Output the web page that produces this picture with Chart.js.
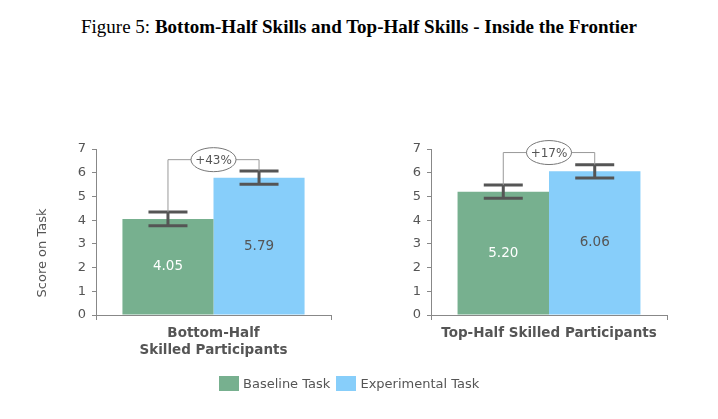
<!DOCTYPE html>
<html>
<head>
<meta charset="utf-8">
<script src="https://cdn.jsdelivr.net/npm/chart.js@4.4.1/dist/chart.umd.min.js"></script>
<style>
    body { margin: 0; background: #fff; width: 718px; height: 419px; position: relative; overflow: hidden; }
    #title { position: absolute; top: 16px; left: 0; width: 718px; text-align: center;
             font-family: "Liberation Serif", "DejaVu Serif", serif; font-size: 19px; color: #000; font-weight: bold; }
    #title span { font-weight: normal; }
    canvas { position: absolute; top: 0; }
    #left-wrap { position: absolute; left: 0; top: 0; width: 359px; height: 419px; }
    #right-wrap { position: absolute; left: 359px; top: 0; width: 359px; height: 419px; }
    #legend { position: absolute; top: 376px; left: 219px; font-family: "DejaVu Sans", sans-serif;
              font-size: 13px; color: #555; white-space: nowrap; }
    .sw { display: inline-block; width: 20px; height: 15px; vertical-align: -3px; margin-right: 4px; }
</style>
</head>
<body>
<div id="title"><span>Figure 5:</span> Bottom-Half Skills and Top-Half Skills - Inside the Frontier</div>
<div id="left-wrap"><canvas id="chart-left"></canvas></div>
<div id="right-wrap"><canvas id="chart-right"></canvas></div>
<div id="legend">
    <span class="sw" style="background:#77b08f"></span>Baseline Task
    <span class="sw" style="background:#87cefa; margin-left:2px"></span>Experimental Task
</div>
<script>
    // 데이터
    const groups = [['Bottom-Half', 'Skilled Participants'], ['Top-Half Skilled Participants']];
    const seriesNames = ['Baseline Task', 'Experimental Task'];
    const baseline = [4.05, 5.20];
    const experimental = [5.79, 6.06];
    const baselineErr = [0.29, 0.28];
    const experimentalErr = [0.28, 0.28];
    const gains = ['+43%', '+17%'];
    const bracketLevel = [6.55, 6.85];
    const yTicks = [0, 1, 2, 3, 4, 5, 6, 7];

    const colors = ['#77b08f', '#87cefa'];
    const labelColors = ['#ffffff', '#555555'];
    const font = 'DejaVu Sans';

    // 에러바, 값 라벨, 증가율 표시
    const overlayPlugin = {
        id: 'overlay',
        afterDatasetsDraw(chart, args, opts) {
            const ctx = chart.ctx;
            const y = chart.scales.y;
            const i = opts.index;
            const vals = [baseline[i], experimental[i]];
            const errs = [baselineErr[i], experimentalErr[i]];
            const xs = [];
            ctx.save();
            for (let d = 0; d < 2; d++) {
                const bar = chart.getDatasetMeta(d).data[0];
                xs.push(bar.x);
                // 값 라벨
                ctx.fillStyle = labelColors[d];
                ctx.font = '13.5px "' + font + '"';
                ctx.textAlign = 'center';
                ctx.textBaseline = 'middle';
                ctx.fillText(vals[d].toFixed(2), bar.x, (bar.y + bar.base) / 2);
                // 에러바
                const top = y.getPixelForValue(vals[d] + errs[d]);
                const bot = y.getPixelForValue(vals[d] - errs[d]);
                ctx.strokeStyle = '#555555';
                ctx.lineWidth = 3;
                ctx.beginPath();
                ctx.moveTo(bar.x, top); ctx.lineTo(bar.x, bot);
                ctx.moveTo(bar.x - 19.5, top); ctx.lineTo(bar.x + 19.5, top);
                ctx.moveTo(bar.x - 19.5, bot); ctx.lineTo(bar.x + 19.5, bot);
                ctx.stroke();
            }
            // 브래킷
            const by = y.getPixelForValue(bracketLevel[i]);
            const t0 = y.getPixelForValue(vals[0] + errs[0]);
            const t1 = y.getPixelForValue(vals[1] + errs[1]);
            ctx.strokeStyle = '#999999';
            ctx.lineWidth = 1;
            ctx.beginPath();
            ctx.moveTo(xs[0], t0); ctx.lineTo(xs[0], by); ctx.lineTo(xs[1], by); ctx.lineTo(xs[1], t1);
            ctx.stroke();
            const cx = (xs[0] + xs[1]) / 2;
            ctx.fillStyle = '#ffffff';
            ctx.strokeStyle = '#777777';
            ctx.beginPath();
            ctx.ellipse(cx, by, 22.5, 12, 0, 0, Math.PI * 2);
            ctx.fill();
            ctx.stroke();
            ctx.fillStyle = '#555555';
            ctx.font = '12px "' + font + '"';
            ctx.textAlign = 'center';
            ctx.textBaseline = 'middle';
            ctx.fillText(gains[i], cx, by + 1);
            // Y축 제목
            if (opts.yTitle) {
                ctx.translate(43, 253);
                ctx.rotate(-Math.PI / 2);
                ctx.fillStyle = '#555555';
                ctx.font = '13px "' + font + '"';
                ctx.fillText('Score on Task', 0, 0);
            }
            ctx.restore();
        }
    };

    function makeChart(id, i, padLeft, yWidth, padRight) {
        const ctx = document.getElementById(id);
        return new Chart(ctx, {
            type: 'bar',
            data: {
                labels: [groups[i]],
                datasets: [{
                    label: seriesNames[0],
                    data: [baseline[i]],
                    backgroundColor: colors[0]
                }, {
                    label: seriesNames[1],
                    data: [experimental[i]],
                    backgroundColor: colors[1]
                }]
            },
            options: {
                responsive: true,
                maintainAspectRatio: false,
                animation: false,
                layout: { padding: { left: padLeft, right: padRight, top: 149, bottom: 0 } },
                datasets: { bar: { categoryPercentage: 0.775, barPercentage: 1.0 } },
                plugins: {
                    legend: { display: false },
                    tooltip: { enabled: false },
                    overlay: { index: i, yTitle: i === 0 }
                },
                scales: {
                    x: {
                        grid: { display: true, drawOnChartArea: false, tickLength: 5, color: '#888888' },
                        border: { color: '#888888' },
                        ticks: {
                            color: '#555555',
                            padding: 5,
                            font: { family: font, size: 13.5, weight: 'bold', lineHeight: 1.25 }
                        },
                        afterFit(scale) { scale.height = 104; }
                    },
                    y: {
                        min: 0,
                        max: 7,
                        afterBuildTicks(scale) { scale.ticks = yTicks.map(v => ({ value: v })); },
                        grid: { display: true, drawOnChartArea: false, tickLength: 4, color: '#888888' },
                        border: { color: '#888888' },
                        ticks: { color: '#555555', padding: 6, font: { family: font, size: 13 } },
                        afterFit(scale) { scale.width = yWidth; }
                    }
                }
            },
            plugins: [overlayPlugin]
        });
    }

    makeChart('chart-left', 0, 0, 96, 28);
    makeChart('chart-right', 1, 0, 72, 51);
</script>
</body>
</html>
